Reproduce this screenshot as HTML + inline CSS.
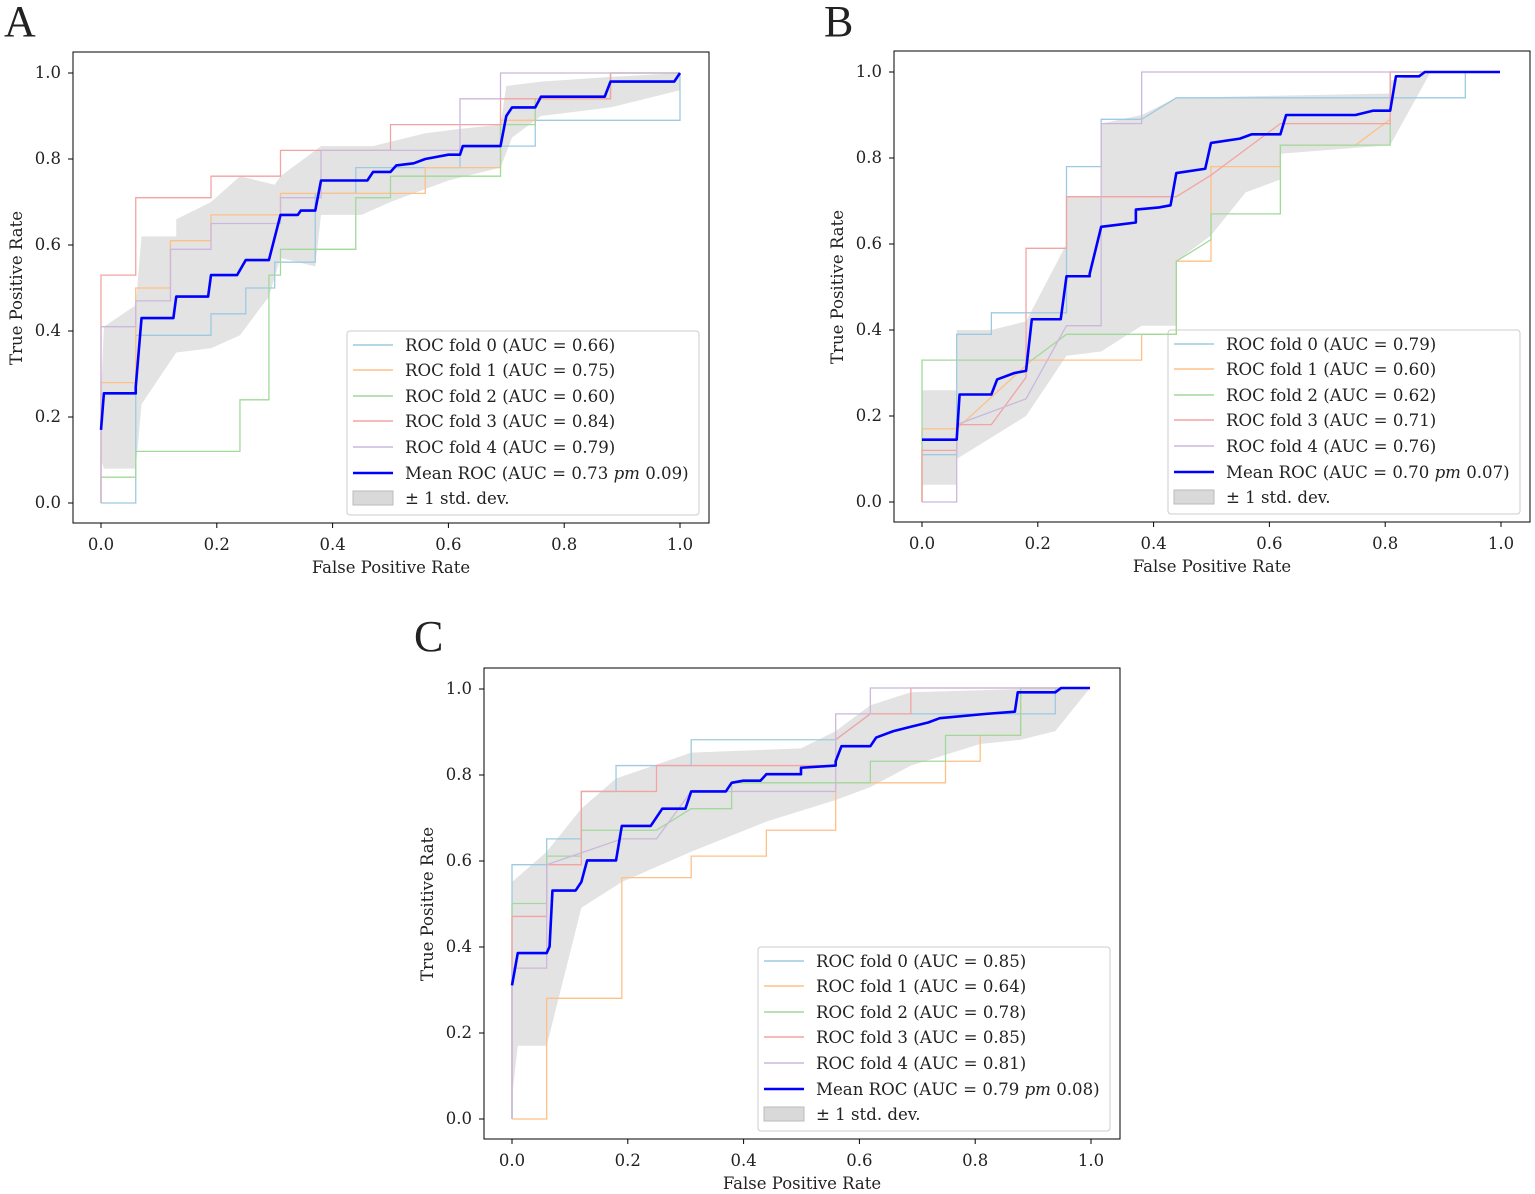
<!DOCTYPE html>
<html><head><meta charset="utf-8"><style>
html,body{margin:0;padding:0;background:#fff}
svg{display:block}
text{font-family:"DejaVu Serif","Liberation Serif",serif;fill:#222}
.t{font-size:16.5px}
.l{font-size:16.6px}
.f{fill:none;stroke-width:1.3;vector-effect:non-scaling-stroke}
.m{fill:none;stroke:#0000ff;stroke-width:2.6;vector-effect:non-scaling-stroke;stroke-linejoin:round}
.b{fill:#d9d9d9;fill-opacity:0.75;stroke:none}
</style></head><body>
<svg width="1535" height="1194" viewBox="0 0 1535 1194" xmlns="http://www.w3.org/2000/svg">
<defs>
<g id="axes">
  <rect x="73" y="52" width="636" height="471" fill="none" stroke="#000" stroke-width="1"/>
  <g stroke="#000" stroke-width="1">
    <line x1="101" y1="523" x2="101" y2="528"/><line x1="216.8" y1="523" x2="216.8" y2="528"/><line x1="332.6" y1="523" x2="332.6" y2="528"/><line x1="448.4" y1="523" x2="448.4" y2="528"/><line x1="564.2" y1="523" x2="564.2" y2="528"/><line x1="680" y1="523" x2="680" y2="528"/>
    <line x1="68" y1="503" x2="73" y2="503"/><line x1="68" y1="417" x2="73" y2="417"/><line x1="68" y1="331" x2="73" y2="331"/><line x1="68" y1="245" x2="73" y2="245"/><line x1="68" y1="159" x2="73" y2="159"/><line x1="68" y1="73" x2="73" y2="73"/>
  </g>
  <g class="t" text-anchor="middle">
    <text x="101" y="550">0.0</text><text x="216.8" y="550">0.2</text><text x="332.6" y="550">0.4</text><text x="448.4" y="550">0.6</text><text x="564.2" y="550">0.8</text><text x="680" y="550">1.0</text>
  </g>
  <g class="t" text-anchor="end">
    <text x="61" y="508">0.0</text><text x="61" y="422">0.2</text><text x="61" y="336">0.4</text><text x="61" y="250">0.6</text><text x="61" y="164">0.8</text><text x="61" y="78">1.0</text>
  </g>
  <text class="t" x="391" y="573" text-anchor="middle">False Positive Rate</text>
  <text class="t" transform="translate(22,288) rotate(-90)" text-anchor="middle">True Positive Rate</text>
  <rect x="347" y="331" width="352" height="184" rx="3" fill="#fff" fill-opacity="0.85" stroke="#ccc"/>
  <g stroke-width="1.5">
    <line x1="353" y1="345" x2="393" y2="345" stroke="#9ecae1"/>
    <line x1="353" y1="370" x2="393" y2="370" stroke="#fdc086"/>
    <line x1="353" y1="396" x2="393" y2="396" stroke="#a1d99b"/>
    <line x1="353" y1="421" x2="393" y2="421" stroke="#f4a3a3"/>
    <line x1="353" y1="447" x2="393" y2="447" stroke="#cbb8dc"/>
    <line x1="353" y1="473" x2="393" y2="473" stroke="#0000ff" stroke-width="2.6"/>
  </g>
  <rect x="353" y="491" width="40" height="14" fill="#d9d9d9" stroke="#bbb"/>
</g>
</defs>

<text x="4" y="36" font-size="44" style="font-family:'Liberation Serif',serif">A</text>
<text x="824" y="36" font-size="44" style="font-family:'Liberation Serif',serif">B</text>
<text x="414" y="651" font-size="44" style="font-family:'Liberation Serif',serif">C</text>

<!-- Panel A -->
<g>
<use href="#axes"/>
<g transform="translate(101,503) scale(579,-430)">
<polygon class="b" points="0,0.25 0.005,0.41 0.06,0.46 0.07,0.62 0.13,0.62 0.13,0.66 0.19,0.7 0.24,0.76 0.3,0.74 0.31,0.76 0.38,0.83 0.47,0.83 0.56,0.86 0.62,0.87 0.69,0.88 0.7,0.97 0.76,0.98 0.87,0.99 1,1 1,0.96 0.88,0.92 0.76,0.9 0.71,0.85 0.69,0.78 0.6,0.75 0.5,0.7 0.45,0.67 0.38,0.67 0.37,0.55 0.31,0.57 0.29,0.48 0.24,0.39 0.19,0.36 0.13,0.35 0.07,0.23 0.06,0.08 0.005,0.08 0,0.1"/>
<polyline class="f" stroke="#9ecae1" points="0,0 0.06,0 0.06,0.39 0.19,0.39 0.19,0.44 0.25,0.44 0.25,0.5 0.3,0.5 0.3,0.56 0.37,0.56 0.37,0.72 0.44,0.72 0.44,0.78 0.62,0.78 0.62,0.83 0.75,0.83 0.75,0.89 1,0.89 1,1"/>
<polyline class="f" stroke="#fdc086" points="0,0 0,0.28 0.06,0.28 0.06,0.5 0.12,0.5 0.12,0.61 0.19,0.61 0.19,0.67 0.31,0.67 0.31,0.72 0.56,0.72 0.56,0.78 0.69,0.78 0.69,0.89 0.75,0.89 0.75,0.94 0.88,0.94 0.88,1 1,1"/>
<polyline class="f" stroke="#a1d99b" points="0,0 0,0.06 0.06,0.06 0.06,0.12 0.24,0.12 0.24,0.24 0.29,0.24 0.29,0.53 0.31,0.53 0.31,0.59 0.44,0.59 0.44,0.71 0.5,0.71 0.5,0.76 0.69,0.76 0.69,0.88 0.75,0.88 0.75,0.94 0.88,0.94 0.88,1 1,1"/>
<polyline class="f" stroke="#f4a3a3" points="0,0 0,0.53 0.06,0.53 0.06,0.71 0.19,0.71 0.19,0.76 0.31,0.76 0.31,0.82 0.5,0.82 0.5,0.88 0.69,0.88 0.69,0.94 0.88,0.94 0.88,1 1,1"/>
<polyline class="f" stroke="#cbb8dc" points="0,0 0,0.41 0.06,0.41 0.06,0.47 0.12,0.47 0.12,0.59 0.19,0.59 0.19,0.65 0.31,0.65 0.31,0.71 0.38,0.71 0.38,0.82 0.62,0.82 0.62,0.88 0.62,0.94 0.69,0.94 0.69,1 1,1"/>
<polyline class="m" points="0,0.17 0.005,0.255 0.06,0.255 0.06,0.27 0.07,0.43 0.125,0.43 0.13,0.48 0.185,0.48 0.19,0.53 0.235,0.53 0.25,0.565 0.29,0.565 0.31,0.67 0.34,0.67 0.345,0.68 0.37,0.68 0.38,0.75 0.46,0.75 0.47,0.77 0.5,0.77 0.51,0.785 0.54,0.79 0.56,0.8 0.6,0.81 0.62,0.81 0.625,0.83 0.69,0.83 0.7,0.9 0.71,0.92 0.75,0.92 0.76,0.945 0.87,0.945 0.88,0.98 0.99,0.98 1,1"/>
</g>
<g class="l">
<text x="405" y="351">ROC fold 0 (AUC = 0.66)</text><text x="405" y="376">ROC fold 1 (AUC = 0.75)</text><text x="405" y="402">ROC fold 2 (AUC = 0.60)</text><text x="405" y="427">ROC fold 3 (AUC = 0.84)</text><text x="405" y="453">ROC fold 4 (AUC = 0.79)</text><text x="405" y="479">Mean ROC (AUC = 0.73 <tspan font-style="italic">pm</tspan> 0.09)</text><text x="405" y="504">± 1 std. dev.</text>
</g>
</g>

<!-- Panel B -->
<g transform="translate(821,-1)">
<use href="#axes"/>
<g transform="translate(101,503) scale(578,-430)">
<polygon class="b" points="0,0.26 0.06,0.26 0.06,0.4 0.12,0.4 0.18,0.42 0.25,0.6 0.25,0.71 0.31,0.71 0.31,0.88 0.38,0.9 0.44,0.94 0.81,0.95 0.81,0.98 0.88,1 1,1 0.88,1 0.81,0.83 0.62,0.81 0.62,0.75 0.56,0.72 0.5,0.62 0.44,0.56 0.44,0.41 0.38,0.41 0.31,0.35 0.25,0.34 0.18,0.2 0.06,0.1 0.06,0.04 0,0.04"/>
<polyline class="f" stroke="#9ecae1" points="0,0 0,0.11 0.06,0.11 0.06,0.39 0.12,0.39 0.12,0.44 0.25,0.44 0.25,0.78 0.31,0.78 0.31,0.89 0.38,0.89 0.44,0.94 0.94,0.94 0.94,1 1,1"/>
<polyline class="f" stroke="#fdc086" points="0,0 0,0.17 0.06,0.17 0.19,0.33 0.38,0.33 0.38,0.39 0.44,0.39 0.44,0.56 0.5,0.56 0.5,0.78 0.62,0.78 0.62,0.83 0.75,0.83 0.81,0.89 0.81,1 1,1"/>
<polyline class="f" stroke="#a1d99b" points="0,0 0,0.33 0.19,0.33 0.25,0.39 0.44,0.39 0.44,0.56 0.5,0.61 0.5,0.67 0.62,0.67 0.62,0.83 0.81,0.83 0.81,1 1,1"/>
<polyline class="f" stroke="#f4a3a3" points="0,0 0,0.12 0.06,0.12 0.06,0.18 0.12,0.18 0.18,0.29 0.18,0.59 0.25,0.59 0.25,0.71 0.44,0.71 0.5,0.76 0.56,0.82 0.62,0.88 0.81,0.88 0.81,1 1,1"/>
<polyline class="f" stroke="#cbb8dc" points="0,0 0.06,0 0.06,0.18 0.18,0.24 0.25,0.41 0.31,0.41 0.31,0.88 0.38,0.88 0.38,1 1,1"/>
<polyline class="m" points="0,0.145 0.06,0.145 0.065,0.25 0.12,0.25 0.13,0.285 0.16,0.3 0.18,0.305 0.19,0.425 0.24,0.425 0.25,0.525 0.29,0.525 0.29,0.53 0.31,0.64 0.34,0.645 0.37,0.65 0.37,0.68 0.41,0.685 0.43,0.69 0.44,0.765 0.49,0.775 0.5,0.835 0.55,0.845 0.57,0.855 0.62,0.855 0.63,0.9 0.75,0.9 0.78,0.91 0.81,0.91 0.82,0.99 0.86,0.99 0.87,1 1,1"/>
</g>
<g class="l">
<text x="405" y="351">ROC fold 0 (AUC = 0.79)</text><text x="405" y="376">ROC fold 1 (AUC = 0.60)</text><text x="405" y="402">ROC fold 2 (AUC = 0.62)</text><text x="405" y="427">ROC fold 3 (AUC = 0.71)</text><text x="405" y="453">ROC fold 4 (AUC = 0.76)</text><text x="405" y="479">Mean ROC (AUC = 0.70 <tspan font-style="italic">pm</tspan> 0.07)</text><text x="405" y="504">± 1 std. dev.</text>
</g>
</g>

<!-- Panel C -->
<g transform="translate(411,616)">
<use href="#axes"/>
<g transform="translate(101,503) scale(578,-431)">
<polygon class="b" points="0,0.55 0.06,0.62 0.12,0.72 0.18,0.79 0.31,0.85 0.5,0.86 0.56,0.9 0.62,0.96 0.69,0.99 0.94,1 1,1 0.94,0.9 0.88,0.88 0.81,0.87 0.69,0.82 0.62,0.77 0.56,0.74 0.44,0.69 0.31,0.62 0.19,0.55 0.12,0.49 0.06,0.17 0.01,0.17 0,0.05"/>
<polyline class="f" stroke="#9ecae1" points="0,0 0,0.59 0.06,0.59 0.06,0.65 0.12,0.65 0.12,0.76 0.18,0.76 0.18,0.82 0.31,0.82 0.31,0.88 0.56,0.88 0.62,0.94 0.94,0.94 0.94,1 1,1"/>
<polyline class="f" stroke="#fdc086" points="0,0 0.06,0 0.06,0.28 0.19,0.28 0.19,0.56 0.31,0.56 0.31,0.61 0.44,0.61 0.44,0.67 0.56,0.67 0.56,0.78 0.75,0.78 0.75,0.83 0.81,0.83 0.81,0.89 0.88,0.89 0.88,1 1,1"/>
<polyline class="f" stroke="#a1d99b" points="0,0 0,0.5 0.06,0.5 0.06,0.61 0.12,0.61 0.12,0.67 0.25,0.67 0.31,0.72 0.38,0.72 0.38,0.78 0.62,0.78 0.62,0.83 0.75,0.83 0.75,0.89 0.88,0.89 0.88,1 1,1"/>
<polyline class="f" stroke="#f4a3a3" points="0,0 0,0.47 0.06,0.47 0.06,0.59 0.12,0.59 0.12,0.76 0.25,0.76 0.25,0.82 0.56,0.82 0.56,0.88 0.62,0.94 0.69,0.94 0.69,1 1,1"/>
<polyline class="f" stroke="#cbb8dc" points="0,0 0,0.35 0.06,0.35 0.06,0.59 0.19,0.65 0.25,0.65 0.31,0.76 0.56,0.76 0.56,0.94 0.62,0.94 0.62,1 1,1"/>
<polyline class="m" points="0,0.31 0.01,0.385 0.06,0.385 0.065,0.4 0.07,0.53 0.11,0.53 0.12,0.55 0.13,0.6 0.18,0.6 0.19,0.68 0.24,0.68 0.25,0.7 0.26,0.72 0.3,0.72 0.31,0.76 0.37,0.76 0.38,0.78 0.4,0.785 0.43,0.785 0.44,0.8 0.5,0.8 0.5,0.815 0.56,0.82 0.56,0.83 0.57,0.865 0.62,0.865 0.63,0.885 0.66,0.9 0.69,0.91 0.72,0.92 0.74,0.93 0.82,0.94 0.87,0.945 0.875,0.99 0.94,0.99 0.95,1 1,1"/>
</g>
<g class="l">
<text x="405" y="351">ROC fold 0 (AUC = 0.85)</text><text x="405" y="376">ROC fold 1 (AUC = 0.64)</text><text x="405" y="402">ROC fold 2 (AUC = 0.78)</text><text x="405" y="427">ROC fold 3 (AUC = 0.85)</text><text x="405" y="453">ROC fold 4 (AUC = 0.81)</text><text x="405" y="479">Mean ROC (AUC = 0.79 <tspan font-style="italic">pm</tspan> 0.08)</text><text x="405" y="504">± 1 std. dev.</text>
</g>
</g>
</svg>
</body></html>
